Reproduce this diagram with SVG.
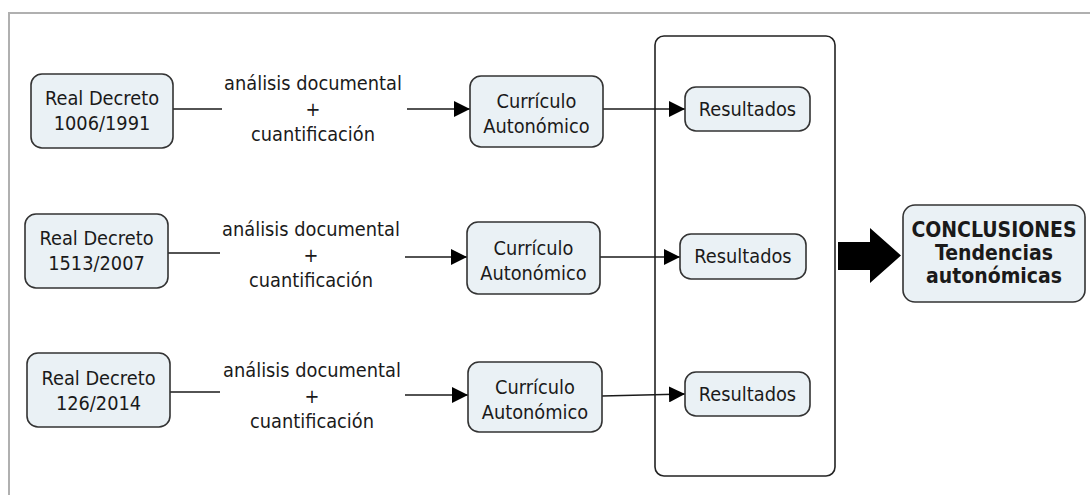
<svg xmlns="http://www.w3.org/2000/svg" width="1090" height="495" viewBox="0 0 1090 495">
  <style>
    .box { fill: #eaf1f5; stroke: #333; stroke-width: 1.6; }
    .txt { font-family: "DejaVu Sans Condensed", "DejaVu Sans", Verdana, sans-serif; font-stretch: condensed; font-size: 19.8px; fill: #1a1a1a; text-anchor: middle; }
    .bold { font-weight: bold; font-size: 21px; }
    .edge { fill: none; stroke: #1a1a1a; stroke-width: 1.6; }
  </style>
  <defs>
    <marker id="arrowLg" viewBox="0 0 16 16" refX="16" refY="8" markerWidth="16" markerHeight="16" markerUnits="userSpaceOnUse" orient="auto">
      <path d="M0,0 L16,8 L0,16 Z" fill="#000"/>
    </marker>
  </defs>

  <!-- page frame -->
  <rect x="0" y="0" width="1090" height="495" fill="#fff"/>
  <path d="M9,495 V13 H1090" fill="none" stroke="#b0b0b0" stroke-width="2"/>

  <!-- results container -->
  <g id="results-group">
    <rect x="655" y="36" width="180" height="440" rx="9" fill="none" stroke="#222" stroke-width="1.6"/>
  </g>

  <!-- connectors -->
  <g id="connectors">
    <line class="edge" x1="173" y1="109" x2="222" y2="109"/>
    <line class="edge" x1="407" y1="109" x2="470" y2="109" marker-end="url(#arrowLg)"/>
    <line class="edge" x1="603" y1="109" x2="685" y2="109" marker-end="url(#arrowLg)"/>

    <line class="edge" x1="168" y1="253" x2="220" y2="253"/>
    <line class="edge" x1="405" y1="257" x2="467" y2="257" marker-end="url(#arrowLg)"/>
    <line class="edge" x1="600" y1="257" x2="680" y2="257" marker-end="url(#arrowLg)"/>

    <line class="edge" x1="170" y1="392" x2="220" y2="392"/>
    <line class="edge" x1="405" y1="395" x2="468" y2="395" marker-end="url(#arrowLg)"/>
    <line class="edge" x1="602" y1="396" x2="685" y2="394" marker-end="url(#arrowLg)"/>

    <polygon points="838,242 870,242 870,228 901,255.5 870,283 870,270 838,270" fill="#000"/>
  </g>

  <!-- row 1 -->
  <g id="rd-1991">
    <rect class="box" x="31" y="74" width="142" height="74" rx="11"/>
    <text class="txt" x="102" y="105">Real Decreto</text>
    <text class="txt" x="102" y="130">1006/1991</text>
  </g>
  <g id="label-1">
    <text class="txt" x="313" y="90">análisis documental</text>
    <text class="txt" x="313" y="116">+</text>
    <text class="txt" x="313" y="141">cuantificación</text>
  </g>
  <g id="curriculo-1">
    <rect class="box" x="470" y="76" width="133" height="71" rx="11"/>
    <text class="txt" x="536.5" y="108">Currículo</text>
    <text class="txt" x="536.5" y="133">Autonómico</text>
  </g>
  <g id="resultados-1">
    <rect class="box" x="685" y="87" width="125" height="44" rx="11"/>
    <text class="txt" x="747.5" y="116">Resultados</text>
  </g>

  <!-- row 2 -->
  <g id="rd-2007">
    <rect class="box" x="25" y="214" width="143" height="74" rx="11"/>
    <text class="txt" x="96.5" y="245">Real Decreto</text>
    <text class="txt" x="96.5" y="270">1513/2007</text>
  </g>
  <g id="label-2">
    <text class="txt" x="311" y="236">análisis documental</text>
    <text class="txt" x="311" y="262">+</text>
    <text class="txt" x="311" y="287">cuantificación</text>
  </g>
  <g id="curriculo-2">
    <rect class="box" x="467" y="222" width="133" height="72" rx="11"/>
    <text class="txt" x="533.5" y="255">Currículo</text>
    <text class="txt" x="533.5" y="280">Autonómico</text>
  </g>
  <g id="resultados-2">
    <rect class="box" x="680" y="234" width="126" height="45" rx="11"/>
    <text class="txt" x="743" y="263">Resultados</text>
  </g>

  <!-- row 3 -->
  <g id="rd-2014">
    <rect class="box" x="27" y="353" width="143" height="74" rx="11"/>
    <text class="txt" x="98.5" y="385">Real Decreto</text>
    <text class="txt" x="98.5" y="410">126/2014</text>
  </g>
  <g id="label-3">
    <text class="txt" x="312" y="377">análisis documental</text>
    <text class="txt" x="312" y="403">+</text>
    <text class="txt" x="312" y="428">cuantificación</text>
  </g>
  <g id="curriculo-3">
    <rect class="box" x="468" y="362" width="134" height="70" rx="11"/>
    <text class="txt" x="535" y="394">Currículo</text>
    <text class="txt" x="535" y="419">Autonómico</text>
  </g>
  <g id="resultados-3">
    <rect class="box" x="685" y="372" width="125" height="44" rx="11"/>
    <text class="txt" x="747.5" y="401">Resultados</text>
  </g>

  <!-- conclusions -->
  <g id="conclusiones">
    <rect class="box" x="903" y="205" width="182" height="97" rx="12"/>
    <text class="txt bold" x="994" y="237">CONCLUSIONES</text>
    <text class="txt bold" x="994" y="260">Tendencias</text>
    <text class="txt bold" x="994" y="283">autonómicas</text>
  </g>
</svg>
